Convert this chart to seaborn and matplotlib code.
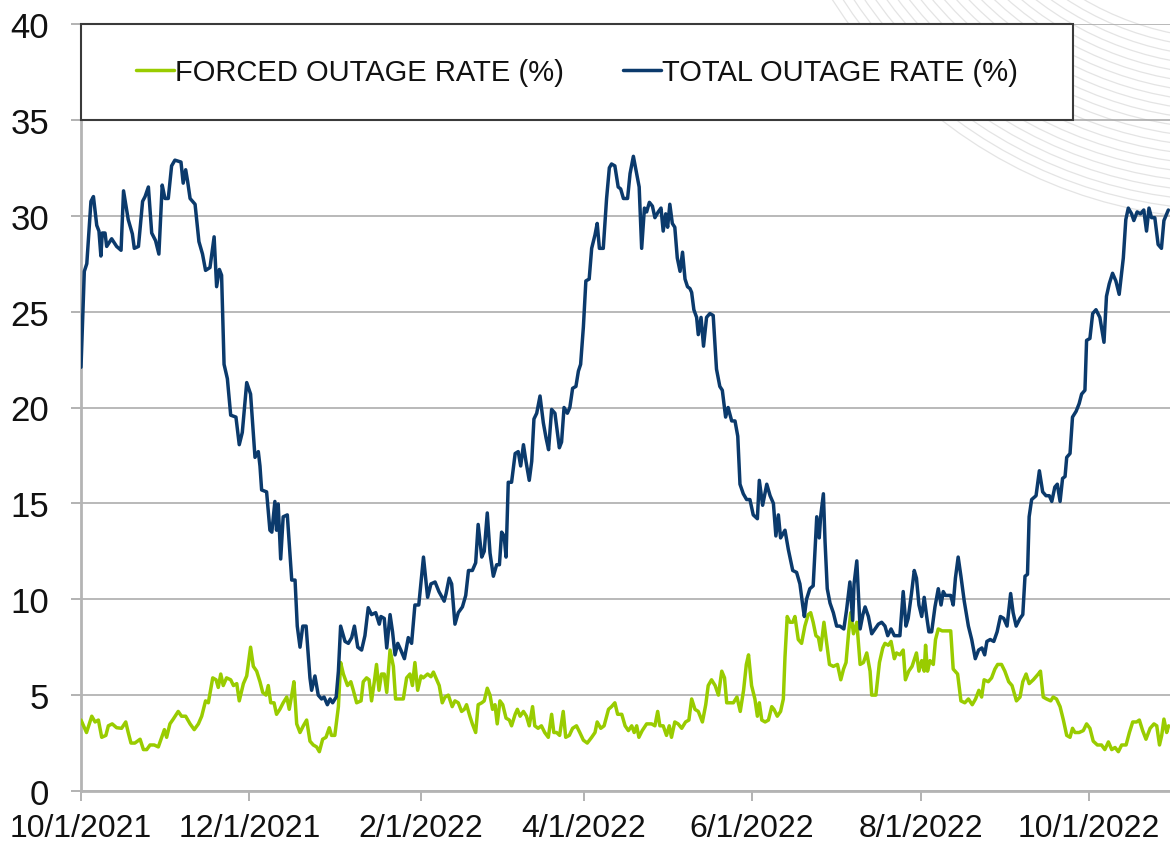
import matplotlib
matplotlib.use('Agg')
import matplotlib.pyplot as plt
from matplotlib import font_manager
from matplotlib.patches import Rectangle, Ellipse
from matplotlib.lines import Line2D
import seaborn as sns
import pandas as pd

start = pd.Timestamp('2021-10-01')

# total outage rate: (days after 10/1/2021, value)
total_days = [0, 1.2, 2.1, 3.6, 4.5, 5.7, 6.5, 7.2, 7.7, 8.7, 9.3, 11.1, 12.9, 14.5, 15.4, 17.1, 18.6, 19.3, 20.8, 22.3, 23.2, 24.4, 25.6, 27.0, 28.2, 29.4, 30.4, 31.6, 32.8, 34.0, 36.2, 37.0, 37.9, 38.6, 39.5, 41.3, 42.7, 44.0, 45.1,
              46.7, 48.2, 49.1, 50.1, 50.9, 51.8, 53.0, 54.2, 56.1, 57.3, 58.4, 60.0, 61.4, 63.0, 64.2, 64.8, 65.4, 67.2, 68.4, 69.1, 70.2, 70.8, 71.4, 72.3, 73.2, 74.7, 76.3, 77.5, 78.3, 79.3, 80.3, 81.5, 82.9, 83.5, 84.7, 85.9, 87.1, 88.0, 89.2, 90.2, 91.1, 92.4, 93.2, 94.0,
              95.6, 96.8, 98.0, 99.0, 100.2, 101.6, 102.8, 104.0, 105.2, 106.7, 108.0, 108.6, 109.8, 110.7, 111.9, 112.8, 113.7, 114.7, 115.8, 117.1, 118.5, 119.7, 120.9, 122.3, 124.0, 125.5, 126.7, 128.2, 129.6, 131.5, 132.2, 133.3, 134.2, 135.4, 136.6, 138.1, 139.3, 140.3, 141.7, 142.9, 143.8, 145.1, 146.0,
              147.1, 148.1, 149.3, 150.5, 151.5, 152.3, 153.2, 153.9, 154.7, 155.9, 157.2, 158.3, 159.2, 160.2, 161.1, 162.3, 163.2, 164.0, 165.0, 166.2, 167.4, 168.4, 169.3, 170.4, 171.6, 172.5, 173.2, 174.0, 174.9, 176.1, 177.0, 178.0, 179.2, 180.1, 180.9, 181.9, 182.8, 184.0, 184.9, 186.1, 186.9, 187.7, 189.1, 190.3, 191.3, 192.1,
              193.3, 194.5, 195.4, 196.4, 197.9, 198.8, 200.0, 201.2, 202.1, 203.0, 204.0, 204.8, 205.8, 206.9, 207.8, 209.0, 210.0, 210.8, 211.7, 212.4, 213.2, 214.1, 215.0, 215.9, 216.9, 217.8, 218.7, 219.6, 220.5, 221.1, 221.9, 222.9, 223.5, 224.5, 225.4, 226.5, 227.7, 228.9, 230.1, 231.3, 232.2, 233.4, 234.3, 235.6, 236.8, 237.8, 238.6, 239.8, 241.0,
              242.2, 243.4, 244.9, 245.6, 246.8, 248.3, 249.5, 250.7, 251.6, 252.5, 253.3, 254.9, 256.1, 257.7, 259.1, 260.3, 261.3, 261.9, 262.7, 263.9, 265.1, 266.4, 267.3, 267.8, 268.8, 269.4, 270.2, 271.2, 272.4, 273.6, 274.8, 276.2, 277.2, 278.4, 279.4, 279.9, 280.9, 282.1, 283.1, 283.9, 285.1, 286.3, 287.5, 288.7, 289.9,
              291.1, 292.1, 293.3, 294.5, 296.5, 297.7, 298.7, 299.5, 300.7, 301.7, 302.5, 303.4, 304.4, 305.3, 306.2, 307.0, 308.0, 309.2, 310.4, 311.4, 312.2, 313.0, 314.9, 315.8, 316.6, 317.6, 318.6, 319.8, 321.3, 322.5, 323.8, 325.0, 326.2, 327.2, 328.0, 329.2, 330.5, 331.7, 332.9, 334.1, 335.3, 336.6, 337.5, 338.6,
              340.0, 341.0, 341.8, 342.7, 343.3, 344.2, 345.8, 347.0, 348.2, 349.4, 350.6, 351.5, 352.6, 353.5, 354.5, 355.4, 356.3, 356.9, 358.1, 359.0, 360.3, 361.4, 362.3, 363.5, 364.1, 365.3, 366.3, 367.5, 368.9, 370.4, 371.3, 372.3, 373.5, 374.7, 375.9, 377.4, 378.3, 379.2, 380.4, 381.2, 382.4, 383.6, 384.8, 385.8, 386.7, 387.6, 388.8, 390.0, 391.2, 392.1, 393.1, 393.7]
total_rate = [22.1, 27.1, 27.5, 30.75, 31.0, 29.5, 29.2, 27.9, 29.1, 29.1, 28.4, 28.8, 28.4, 28.2, 31.3, 29.8, 29.05, 28.3, 28.4, 30.75, 31.0, 31.5, 29.1, 28.7, 28.0, 31.6, 30.9, 30.9, 32.6, 32.9, 32.8, 31.7, 32.4, 31.8, 30.9, 30.6, 28.65, 28.0, 27.15,
              27.3, 28.9, 26.3, 27.2, 26.9, 22.25, 21.5, 19.6, 19.5, 18.06, 18.7, 21.3, 20.7, 17.4, 17.7, 16.95, 15.7, 15.6, 13.6, 13.5, 15.1, 13.6, 14.97, 12.1, 14.3, 14.4, 11.0, 11.0, 8.6, 7.5, 8.6, 8.6, 5.9, 5.25, 6.0, 5.0, 4.8, 4.9, 4.5, 4.8, 4.6, 4.9, 6.25, 8.6,
              7.8, 7.7, 8.0, 8.6, 7.5, 7.35, 8.1, 9.56, 9.2, 9.3, 8.7, 9.1, 9.0, 7.46, 9.2, 8.3, 7.1, 7.7, 7.35, 6.9, 8.0, 7.7, 9.7, 9.7, 12.2, 10.1, 10.8, 10.9, 10.4, 9.9, 10.3, 11.1, 10.8, 8.7, 9.3, 9.6, 10.2, 11.5, 11.5, 11.9, 13.9, 12.2, 12.5,
              14.5, 12.4, 11.2, 11.8, 11.8, 13.5, 13.3, 12.2, 16.1, 16.1, 17.6, 17.7, 16.95, 18.06, 17.2, 16.2, 17.2, 19.4, 19.7, 20.6, 19.2, 18.4, 17.8, 19.9, 19.7, 18.7, 17.9, 18.2, 20.0, 19.7, 20.0, 21.0, 21.1, 21.9, 22.25, 24.2, 26.6, 26.7, 28.3, 29.0, 29.6, 28.3, 28.3, 30.9, 32.5, 32.7,
              32.6, 31.5, 31.4, 30.9, 30.9, 32.2, 33.1, 32.2, 31.5, 28.3, 30.4, 30.2, 30.7, 30.5, 29.9, 30.2, 30.4, 29.2, 30.1, 29.4, 30.6, 29.6, 29.4, 27.8, 27.1, 28.1, 26.7, 26.3, 26.2, 26.0, 25.1, 24.7, 23.8, 24.7, 23.2, 24.7, 24.9, 24.8, 22.0, 21.1, 20.9, 19.5, 20.0, 19.3, 19.3, 18.5, 16.0, 15.5, 15.2,
              15.2, 14.4, 14.2, 16.2, 14.9, 16.0, 15.4, 15.0, 13.3, 14.4, 13.2, 13.6, 12.6, 11.5, 11.4, 10.8, 9.7, 9.1, 10.0, 10.55, 10.7, 14.3, 13.2, 14.3, 15.5, 13.0, 10.55, 9.8, 9.3, 8.6, 8.6, 8.45, 9.45, 10.9, 8.9, 10.8, 12.0, 8.45, 9.2, 9.6, 9.1, 8.2, 8.45, 8.7, 8.8,
              8.6, 8.1, 8.45, 8.1, 8.1, 10.4, 8.6, 9.0, 10.3, 11.5, 11.1, 9.7, 9.1, 10.1, 9.1, 8.3, 8.3, 9.6, 10.55, 9.7, 10.4, 10.2, 10.2, 9.7, 11.1, 12.2, 11.2, 9.9, 8.6, 7.9, 6.9, 7.35, 7.46, 7.1, 7.8, 7.9, 7.8, 8.3, 9.1, 9.0, 8.6, 10.3, 9.3, 8.6,
              9.0, 9.2, 11.2, 11.3, 14.3, 15.2, 15.4, 16.7, 15.6, 15.4, 15.4, 15.1, 15.85, 16.0, 15.1, 16.3, 16.4, 17.4, 17.6, 19.5, 19.8, 20.2, 20.7, 20.9, 23.5, 23.6, 24.9, 25.1, 24.7, 23.4, 25.8, 26.45, 27.0, 26.6, 25.9, 27.8, 29.8, 30.4, 30.1, 29.75, 30.2, 30.1, 30.3, 29.2, 30.4, 29.9, 29.9, 28.5, 28.3, 29.75, 30.1, 30.3]

# forced outage rate
forced_days = [0, 2.0, 3.9, 5.1, 6.3, 7.5, 9.0, 9.9, 11.3, 12.9, 14.7, 16.2, 17.1, 18.1, 19.5, 21.4, 22.6, 23.8, 25.0, 26.5, 28.0, 29.2, 30.2, 31.0, 32.2, 33.4, 35.2, 36.4, 37.9, 39.5, 41.0, 42.5, 43.7, 45.1, 46.1,
               47.7, 48.9, 49.7, 50.6, 51.5, 52.7, 54.2, 55.2, 56.4, 57.3, 58.8, 60.0, 61.4, 62.4, 63.6, 64.8, 65.8, 67.0, 67.8, 68.7, 69.9, 70.8, 72.0, 73.2, 74.5, 75.4, 76.3, 77.1, 78.1, 79.3, 80.5, 81.7, 82.9, 84.1, 85.3, 86.3, 87.5, 88.7, 89.9, 90.7, 91.9, 93.2, 94.0, 95.0,
               96.5, 97.7, 98.6, 99.8, 101.4, 102.2, 103.4, 104.3, 105.2, 106.2, 107.0, 107.9, 108.8, 109.8, 110.7, 111.9, 113.1, 113.9, 115.1, 116.7, 117.9, 119.1, 120.0, 120.9, 121.9, 123.1, 123.9, 125.5, 126.7, 127.6, 128.8, 129.7, 130.8, 131.8, 133.0, 134.4, 135.4, 136.6, 137.8, 138.8, 139.6, 140.8, 141.7, 142.9, 143.8, 145.1, 146.0,
               147.1, 148.1, 149.0, 149.9, 150.7, 151.7, 152.7, 153.9, 155.1, 155.9, 157.2, 158.0, 159.0, 160.2, 161.3, 162.3, 163.5, 164.3, 165.5, 166.7, 167.9, 169.2, 170.4, 171.2, 172.2, 173.3, 174.6, 175.5, 176.8, 178.0, 179.4, 180.6, 181.9, 183.3, 184.9, 186.1, 186.9, 188.2, 189.4, 191.0, 192.1,
               193.3, 194.3, 195.8, 197.0, 198.2, 199.4, 200.3, 201.2, 202.0, 203.2, 204.8, 206.6, 207.8, 208.8, 209.6, 210.8, 212.0, 213.0, 213.8, 215.0, 216.2, 217.5, 218.9, 220.1, 221.1, 222.3, 223.5, 225.0, 226.2, 227.1, 228.3, 229.6, 230.8, 232.0, 233.0, 233.8, 235.0, 236.2, 237.5, 238.7, 239.9, 240.9, 241.7,
               242.8, 244.0, 244.9, 245.6, 246.5, 247.7, 248.9, 250.1, 250.9, 252.1, 253.3, 254.3, 254.9, 255.7, 256.7, 257.7, 258.5, 259.7, 260.9, 262.1, 263.3, 264.2, 265.1, 266.1, 267.0, 267.8, 269.0, 270.0, 271.0, 272.4, 273.9, 275.1, 276.1, 277.0, 277.9, 278.7, 279.7, 280.9, 282.1, 283.3, 284.5, 285.7, 286.3, 287.8, 289.1, 290.3,
               291.1, 292.3, 293.3, 294.5, 295.3, 296.5, 297.7, 298.5, 299.7, 300.9, 302.5, 303.4, 304.4, 305.3, 305.8, 306.5, 307.4, 308.6, 309.4, 310.4, 311.8, 313.4, 314.9, 315.8, 317.4, 318.6, 320.0, 321.3, 322.7, 323.9, 325.1, 326.1, 327.0, 328.5, 329.7, 330.9, 331.9, 333.3, 334.5, 335.9, 337.1, 338.7,
               340.0, 341.0, 342.2, 343.3, 344.8, 346.6, 347.4, 348.4, 349.6, 351.1, 352.0, 353.2, 354.5, 355.7, 356.9, 358.1, 359.0, 359.9, 361.4, 362.9, 364.1, 365.3, 366.5, 368.0, 369.5, 370.7, 372.0, 373.2, 374.4, 375.6, 376.8, 378.4, 379.6, 380.8, 382.2, 383.2, 384.4, 385.6, 387.1, 388.5, 389.5, 390.5, 391.3, 392.1, 393.1, 393.8]
forced_rate = [3.7, 3.05, 3.9, 3.6, 3.7, 2.8, 2.9, 3.4, 3.5, 3.3, 3.27, 3.6, 3.05, 2.5, 2.5, 2.7, 2.16, 2.16, 2.4, 2.4, 2.3, 2.8, 3.2, 2.8, 3.5, 3.75, 4.15, 3.9, 3.9, 3.5, 3.2, 3.5, 3.9, 4.7, 4.6,
               5.9, 5.8, 5.4, 6.1, 5.5, 5.9, 5.8, 5.5, 5.6, 4.7, 5.6, 6.0, 7.5, 6.5, 6.25, 5.7, 5.14, 5.0, 5.5, 4.6, 4.6, 4.0, 4.26, 4.6, 4.9, 4.26, 5.0, 5.7, 3.5, 3.05, 3.4, 3.7, 2.6, 2.4, 2.3, 2.05, 2.7, 2.8, 3.3, 2.9, 2.9, 4.4, 6.7, 6.1,
               5.5, 5.7, 5.25, 4.6, 4.7, 5.7, 5.9, 5.8, 4.7, 5.7, 6.6, 5.25, 6.1, 6.1, 5.14, 7.35, 6.5, 4.8, 4.8, 4.8, 5.9, 6.1, 5.5, 6.7, 5.25, 6.0, 5.9, 6.1, 5.96, 6.2, 5.8, 5.5, 4.6, 4.9, 5.0, 4.4, 4.7, 4.6, 4.15, 4.26, 4.5, 3.9, 3.5, 3.05, 4.5, 4.6, 4.7,
               5.36, 5.0, 4.26, 4.5, 3.5, 4.7, 4.5, 3.8, 3.7, 3.4, 4.0, 4.26, 3.9, 4.15, 3.9, 3.4, 4.4, 3.4, 3.27, 3.4, 3.05, 2.8, 4.0, 3.05, 3.05, 2.9, 4.15, 2.8, 2.9, 3.27, 3.4, 3.05, 2.65, 2.5, 2.8, 3.05, 3.6, 3.27, 3.4, 4.26, 4.4,
               4.6, 4.0, 4.0, 3.4, 3.15, 3.4, 3.05, 3.4, 2.8, 3.15, 3.5, 3.5, 3.4, 4.15, 3.4, 3.4, 2.9, 3.4, 2.8, 3.6, 3.5, 3.27, 3.6, 3.7, 4.8, 4.26, 4.15, 3.6, 4.5, 5.5, 5.8, 5.5, 5.0, 6.25, 5.9, 4.6, 4.6, 4.6, 4.9, 4.15, 5.25, 6.6, 7.1,
               5.5, 4.8, 3.9, 4.6, 3.7, 3.6, 3.7, 4.4, 4.26, 3.9, 4.15, 4.8, 7.0, 9.1, 8.8, 8.8, 9.1, 7.9, 7.7, 8.6, 9.2, 9.3, 8.8, 8.1, 8.0, 7.35, 8.8, 7.7, 6.6, 6.5, 6.6, 5.8, 6.36, 6.7, 8.2, 9.3, 8.2, 8.8, 6.6, 6.7, 7.2, 6.25, 5.0, 5.0, 6.7, 7.46,
               7.7, 7.6, 7.8, 6.9, 7.2, 7.1, 7.35, 5.8, 6.25, 6.5, 7.2, 6.25, 6.8, 6.25, 7.6, 6.25, 6.8, 6.6, 7.9, 8.45, 8.35, 8.35, 8.35, 6.36, 6.1, 4.7, 4.6, 4.8, 4.5, 4.8, 5.25, 4.9, 5.8, 5.7, 5.9, 6.36, 6.6, 6.6, 6.25, 5.7, 5.5, 4.7,
               4.9, 5.7, 6.1, 5.6, 5.8, 6.1, 6.25, 4.9, 4.8, 4.7, 4.9, 4.8, 4.4, 3.7, 2.9, 2.8, 3.27, 3.05, 3.05, 3.15, 3.5, 3.27, 2.6, 2.4, 2.4, 2.16, 2.56, 2.16, 2.27, 2.05, 2.4, 2.4, 3.05, 3.6, 3.6, 3.7, 3.15, 2.7, 3.27, 3.5, 3.4, 2.4, 2.9, 3.75, 3.05, 3.4]

tick_dates = ['2021-10-01', '2021-12-01', '2022-02-01', '2022-04-01', '2022-06-01', '2022-08-01', '2022-10-01']
tick_labels = ['10/1/2021', '12/1/2021', '2/1/2022', '4/1/2022', '6/1/2022', '8/1/2022', '10/1/2022']
y_ticks = [0, 5, 10, 15, 20, 25, 30, 35, 40]

FORCED_COLOR = '#99CC00'
TOTAL_COLOR = '#0B3A6C'


def pick_font():
    names = {f.name for f in font_manager.fontManager.ttflist}
    for name in ['Liberation Sans Narrow', 'Liberation Sans', 'DejaVu Sans']:
        if name in names:
            return name
    return 'DejaVu Sans'


def draw_arcs(fig):
    # faint background swirl in the top right corner
    W, H = 1170, 845
    cx, cy = 1230, H + 250
    for r in range(290, 475, 9):
        e = Ellipse((cx / W, cy / H), 2 * r / W, 2 * r / H,
                    transform=fig.transFigure, fill=False,
                    edgecolor='#E4E4E4', lw=0.9, zorder=-5)
        fig.add_artist(e)


def plot_outage():
    sns.set_style('white')
    font = pick_font()
    narrow = font == 'Liberation Sans Narrow'
    plt.rcParams['font.family'] = [font, 'DejaVu Sans']
    xsize = 27 if narrow else 23
    ysize = 27 if narrow else 25
    lsize = 24 if narrow else 21

    fig = plt.figure(figsize=(11.7, 8.45), dpi=100)
    draw_arcs(fig)
    ax = fig.add_axes([81 / 1170, 53 / 845, 1089 / 1170, 767 / 845])
    ax.set_facecolor('none')

    forced = pd.DataFrame({'date': start + pd.to_timedelta(forced_days, unit='D'),
                           'rate': forced_rate})
    total = pd.DataFrame({'date': start + pd.to_timedelta(total_days, unit='D'),
                          'rate': total_rate})

    sns.lineplot(data=forced, x='date', y='rate', ax=ax, color=FORCED_COLOR,
                 lw=2.5, estimator=None, sort=False, zorder=3)
    sns.lineplot(data=total, x='date', y='rate', ax=ax, color=TOTAL_COLOR,
                 lw=2.5, estimator=None, sort=False, zorder=4)

    ax.set_xlim(start, start + pd.Timedelta(days=394.3))
    ax.set_ylim(0, 40)
    ax.set_yticks(y_ticks)
    ax.set_xticks(pd.to_datetime(tick_dates))
    ax.set_xticklabels(tick_labels)
    ax.set_xlabel('')
    ax.set_ylabel('')

    ax.grid(axis='y', color='#A6A6A6', lw=1.1)
    ax.grid(axis='x', visible=False)
    ax.set_axisbelow(True)
    for side in ['top', 'right']:
        ax.spines[side].set_visible(False)
    for side in ['left', 'bottom']:
        ax.spines[side].set_color('#B4B4B4')
        ax.spines[side].set_linewidth(2)

    ax.tick_params(axis='both', which='both', length=7, width=1.2,
                   color='#A6A6A6', labelcolor='#111111', direction='out')
    ax.tick_params(axis='y', pad=16, left=True, labelsize=ysize)
    ax.tick_params(axis='x', pad=9, bottom=True, labelsize=xsize)

    # legend box sits in the 35-40 band
    box_w = (1073 - 81) / 1089
    ax.add_patch(Rectangle((0, 0.875), box_w, 0.125, transform=ax.transAxes,
                           facecolor='white', edgecolor='#3A3A3A', lw=1.5,
                           zorder=5, clip_on=False))
    handles = [Line2D([], [], color=FORCED_COLOR, lw=2.5),
               Line2D([], [], color=TOTAL_COLOR, lw=2.5)]
    leg = ax.legend(handles, ['FORCED OUTAGE RATE (%)', 'TOTAL OUTAGE RATE (%)'],
                    loc='center', bbox_to_anchor=(0, 0.875, box_w, 0.125),
                    ncol=2, frameon=False, fontsize=lsize, handlelength=1.3,
                    handletextpad=0.05, columnspacing=2.0)
    leg.set_zorder(6)
    for t in leg.get_texts():
        t.set_color('#111111')

    plt.savefig('out.png', dpi=100)


if __name__ == '__main__':
    plot_outage()
